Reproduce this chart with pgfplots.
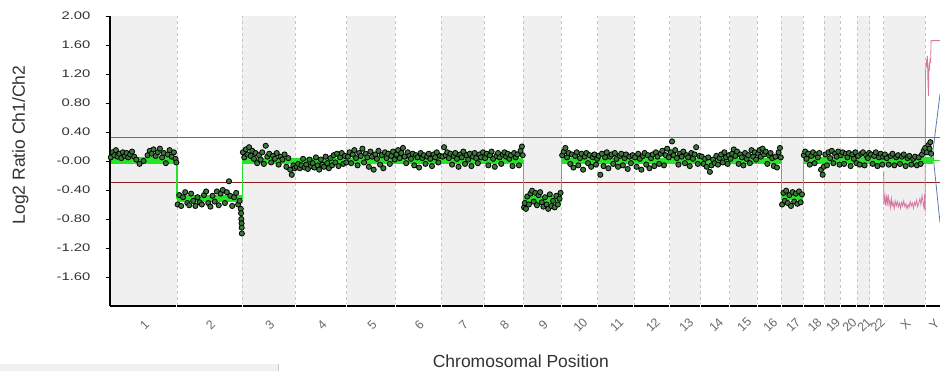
\documentclass[border=0pt]{standalone}
\usepackage{pgfplots}
\pgfplotsset{compat=1.18}
\usepackage{fontspec}
\setmainfont{Liberation Sans}
\definecolor{band}{RGB}{240,240,240}
\definecolor{dashc}{RGB}{198,198,198}
\definecolor{seg}{RGB}{40,228,40}
\definecolor{dot}{RGB}{60,120,60}
\definecolor{thrG}{RGB}{60,145,60}
\definecolor{thrR}{RGB}{140,30,30}
\definecolor{pinkl}{RGB}{215,120,160}
\definecolor{bluel}{RGB}{90,125,175}
\definecolor{txt}{RGB}{50,50,50}
\definecolor{lbl}{RGB}{105,105,105}
\begin{document}
\begin{tikzpicture}
\begin{axis}[
  scale only axis, width=830pt, height=290pt,
  at={(0,0)}, anchor=south west,
  xmin=0, xmax=3091, ymin=-2, ymax=2,
  axis lines=left, axis line style={draw=none},
  clip=false,
  ytick={2,1.6,1.2,0.8,0.4,0,-0.4,-0.8,-1.2,-1.6},
  yticklabels={2.00,1.60,1.20,0.80,0.40,-0.00,-0.40,-0.80,-1.20,-1.60},
  tick align=outside,
  major tick length=4pt,
  y tick style={black, line width=0.8pt},
  x tick style={draw=none},
  xtick={124.6,370.9,591.5,786.1,972.2,1148.2,1313.3,1466.0,1609.8,1748.2,1883.4,2017.9,2142.4,2253.7,2358.6,2455.0,2540.8,2620.5,2689.1,2750.1,2805.7,2855.4,2958.7,3066},
  xticklabels={1,2,3,4,5,6,7,8,9,10,11,12,13,14,15,16,17,18,19,20,21,22,X,Y},
  yticklabel style={font=\fontsize{11}{13}\selectfont, xscale=1.35, text=txt, xshift=-8pt},
  xticklabel style={font=\fontsize{12.5}{14}\selectfont, text=lbl, anchor=center, yshift=-15pt, xshift=1pt, rotate=45},
  xlabel={Chromosomal Position}, ylabel={Log2 Ratio Ch1/Ch2},
  label style={font=\fontsize{17.5}{20}\selectfont, text=txt},
  xlabel style={at={(axis description cs:0.495,-0.19)}, anchor=center},
  ylabel style={at={(axis description cs:-0.108,0.555)}, anchor=center},
]
% chromosome bands (odd chromosomes and X)
\fill[band] (axis cs:0,-2) rectangle (axis cs:249.3,2);
\fill[band] (axis cs:492.5,-2) rectangle (axis cs:690.5,2);
\fill[band] (axis cs:881.7,-2) rectangle (axis cs:1062.6,2);
\fill[band] (axis cs:1233.7,-2) rectangle (axis cs:1392.8,2);
\fill[band] (axis cs:1539.2,-2) rectangle (axis cs:1680.4,2);
\fill[band] (axis cs:1815.9,-2) rectangle (axis cs:1950.9,2);
\fill[band] (axis cs:2084.8,-2) rectangle (axis cs:2200.0,2);
\fill[band] (axis cs:2307.3,-2) rectangle (axis cs:2409.8,2);
\fill[band] (axis cs:2500.2,-2) rectangle (axis cs:2581.4,2);
\fill[band] (axis cs:2659.5,-2) rectangle (axis cs:2718.6,2);
\fill[band] (axis cs:2781.6,-2) rectangle (axis cs:2829.7,2);
\fill[band] (axis cs:2881.0,-2) rectangle (axis cs:3036.3,2);
\pgfplotsinvokeforeach{249.3,492.5,690.5,881.7,1062.6,1233.7,1392.8,1539.2,1680.4,1815.9,1950.9,2084.8,2200.0,2307.3,2409.8,2500.2,2581.4,2659.5,2718.6,2781.6,2829.7,2881.0,3036.3}{
  \draw[dashc, dash pattern=on 3pt off 3pt, line width=0.7pt] (axis cs:#1,-2) -- (axis cs:#1,2);
}
% thresholds
\addplot[thrG, line width=1pt] coordinates {(0,0.32) (3091,0.32)};
\addplot[thrR, line width=1pt] coordinates {(0,-0.30) (3091,-0.30)};
% X / Y overlay traces
\addplot[pinkl, line width=0.8pt] coordinates {
(2881,-0.15) (2882,-0.60) (2886,-0.48) (2889,-0.62) (2892,-0.50) (2895,-0.58) (2898,-0.46) (2901,-0.60)
(2904,-0.55) (2907,-0.64) (2910,-0.52) (2913,-0.61) (2916,-0.57) (2920,-0.66) (2924,-0.55) (2928,-0.62)
(2932,-0.56) (2936,-0.63) (2940,-0.58) (2944,-0.65) (2948,-0.57) (2952,-0.62) (2956,-0.55) (2960,-0.63)
(2964,-0.59) (2968,-0.66) (2972,-0.60) (2976,-0.64) (2980,-0.56) (2984,-0.62) (2988,-0.58) (2992,-0.65)
(2996,-0.57) (3000,-0.61) (3004,-0.54) (3008,-0.63) (3012,-0.58) (3016,-0.52) (3020,-0.60) (3024,-0.48)
(3028,-0.57) (3032,-0.66) (3034,-0.45) (3036,-0.70) (3037,1.20) (3040,1.40) (3042,1.30) (3044,1.45)
(3046,1.10) (3048,0.90) (3050,1.35) (3052,1.25) (3054,1.42) (3056,1.35) (3058,1.66) (3091,1.66)};
\addplot[bluel, line width=0.8pt] coordinates {(3091,0.92) (3064,0.12) (3091,-0.85)};
% data points
\addplot[only marks, mark=*, mark size=2.6pt, mark options={fill=dot, draw=black, line width=0.8pt}] table {
x y
3 0.05
10 0.12
16 0.08
22 0.15
28 0.06
35 0.10
42 0.04
48 0.12
55 0.07
62 0.11
68 0.05
75 0.09
82 0.13
90 0.06
98 0.02
110 -0.04
125 0.00
140 0.08
148 0.14
155 0.10
162 0.16
170 0.07
178 0.12
186 0.17
194 0.05
200 0.11
208 -0.03
215 0.09
222 0.15
230 0.06
238 0.12
244 0.03
247 -0.02
252 -0.60
258 -0.47
265 -0.62
272 -0.50
280 -0.43
288 -0.58
295 -0.61
302 -0.45
310 -0.55
318 -0.62
326 -0.50
334 -0.57
342 -0.60
350 -0.47
358 -0.42
366 -0.58
374 -0.63
382 -0.48
390 -0.56
398 -0.42
405 -0.61
412 -0.45
420 -0.40
428 -0.58
435 -0.43
443 -0.28
448 -0.48
455 -0.62
462 -0.50
470 -0.44
477 -0.60
483 -0.55
487 -0.66
488 -0.72
489 -0.80
490 -0.86
490.5 -0.92
491 -1.00
495 0.12
500 0.05
506 0.16
512 0.09
518 0.19
524 0.07
530 0.14
536 0.03
542 0.11
548 -0.03
555 0.08
561 0.02
567 0.12
573 -0.04
580 0.21
586 0.06
593 0.10
600 -0.02
607 0.07
614 0.03
621 0.11
628 -0.05
635 0.06
642 0.02
650 0.09
657 -0.08
664 0.04
671 -0.12
677 -0.19
683 -0.06
688 -0.10
695 -0.08
701 -0.04
707 -0.10
713 -0.06
719 0.03
725 -0.09
731 -0.05
737 -0.11
743 0.02
749 -0.07
755 -0.03
761 -0.09
767 0.05
773 -0.06
779 -0.12
785 0.02
791 -0.05
797 -0.08
803 0.06
809 -0.03
815 -0.10
821 0.04
827 -0.06
833 0.08
839 -0.02
845 0.10
851 -0.07
857 0.05
863 0.11
869 -0.04
875 0.07
880 -0.02
886 0.06
892 0.12
898 -0.03
904 0.09
910 0.15
916 0.04
922 -0.06
928 0.11
934 0.07
940 0.17
946 -0.02
952 0.10
958 0.05
964 -0.08
970 0.13
976 0.06
982 -0.12
988 0.09
994 0.03
1000 0.14
1006 -0.05
1012 0.08
1018 -0.10
1024 0.12
1030 0.04
1036 0.10
1042 -0.04
1048 0.07
1054 0.13
1060 0.02
1067 0.09
1073 0.15
1079 0.04
1085 0.11
1091 0.18
1097 0.06
1103 -0.03
1109 0.12
1115 0.07
1121 0.03
1127 0.10
1133 -0.06
1139 0.08
1145 0.05
1151 -0.09
1157 0.11
1163 0.04
1169 0.08
1175 -0.04
1181 0.06
1187 0.10
1193 0.03
1199 -0.07
1205 0.09
1211 0.05
1217 0.12
1223 -0.02
1229 0.07
1238 0.06
1244 0.19
1250 0.08
1256 0.12
1262 0.04
1268 0.10
1274 -0.05
1280 0.07
1286 0.11
1292 0.03
1298 -0.08
1304 0.09
1310 0.05
1316 0.13
1322 -0.04
1328 0.08
1334 0.02
1340 0.10
1346 -0.07
1352 0.06
1358 0.11
1364 0.04
1370 -0.03
1376 0.09
1382 0.05
1389 0.12
1397 0.04
1403 0.10
1409 -0.06
1415 0.08
1421 0.13
1427 0.03
1433 -0.08
1439 0.07
1445 0.11
1451 0.05
1457 -0.04
1463 0.09
1469 0.12
1475 0.06
1481 0.10
1487 0.03
1493 0.08
1499 -0.07
1505 0.11
1511 0.05
1517 0.09
1523 -0.06
1529 0.14
1534 0.20
1537 0.08
1542 -0.64
1545 -0.58
1549 -0.66
1554 -0.49
1560 -0.60
1566 -0.45
1572 -0.41
1578 -0.56
1584 -0.44
1590 -0.61
1596 -0.47
1602 -0.43
1608 -0.57
1614 -0.63
1620 -0.50
1626 -0.60
1632 -0.66
1638 -0.46
1644 -0.62
1650 -0.55
1656 -0.64
1662 -0.48
1668 -0.60
1674 -0.52
1678 -0.44
1684 0.08
1690 0.13
1696 0.18
1702 0.05
1708 0.11
1714 -0.04
1720 0.09
1726 -0.09
1732 0.07
1738 0.12
1744 -0.06
1750 0.04
1756 0.10
1762 -0.12
1768 0.06
1774 0.11
1780 -0.03
1786 0.08
1792 -0.08
1798 0.05
1804 0.09
1810 -0.05
1814 0.03
1820 0.07
1826 -0.19
1832 0.10
1838 -0.07
1844 0.05
1850 0.12
1856 -0.10
1862 0.06
1868 0.09
1874 -0.04
1880 0.11
1886 0.03
1892 -0.08
1898 0.07
1904 0.10
1910 -0.06
1916 0.04
1922 0.09
1928 -0.11
1934 0.06
1940 -0.03
1946 0.08
1955 0.05
1961 -0.08
1967 0.10
1973 0.03
1979 -0.12
1985 0.07
1991 0.11
1997 -0.05
2003 0.08
2009 -0.10
2015 0.04
2021 0.09
2027 -0.07
2033 0.12
2039 0.06
2045 -0.04
2051 0.10
2057 0.14
2063 -0.06
2069 0.08
2075 0.17
2081 0.05
2089 0.12
2093 0.27
2099 0.08
2105 0.15
2111 0.04
2117 -0.05
2123 0.10
2129 0.06
2135 0.13
2141 -0.03
2147 0.08
2153 0.05
2159 -0.07
2165 0.11
2171 0.03
2177 0.09
2183 0.19
2189 -0.04
2195 0.07
2204 0.06
2210 -0.04
2216 0.03
2222 -0.08
2228 0.05
2234 -0.15
2240 -0.06
2246 0.02
2252 -0.03
2258 0.07
2264 -0.05
2270 0.04
2276 0.09
2282 -0.02
2288 0.12
2294 0.05
2300 -0.04
2305 0.08
2311 0.03
2317 0.10
2323 0.16
2329 0.07
2335 0.13
2341 -0.04
2347 0.09
2353 0.05
2359 -0.06
2365 0.11
2371 0.03
2377 0.08
2383 -0.03
2389 0.15
2395 0.06
2401 0.12
2406 0.02
2414 0.10
2419 0.15
2424 0.06
2430 0.17
2436 0.09
2442 0.13
2448 -0.04
2454 0.08
2460 0.11
2466 0.04
2472 -0.07
2478 0.06
2484 -0.09
2490 0.12
2495 0.18
2498 0.05
2503 -0.60
2508 -0.44
2513 -0.55
2518 -0.41
2524 -0.58
2530 -0.47
2536 -0.62
2542 -0.43
2548 -0.56
2554 -0.45
2560 -0.59
2566 -0.42
2572 -0.57
2577 -0.46
2584 0.08
2589 0.13
2594 0.03
2600 0.10
2606 -0.05
2612 0.07
2618 0.12
2624 -0.03
2630 0.09
2636 0.05
2642 0.11
2648 -0.12
2654 -0.19
2658 -0.08
2664 0.09
2670 -0.06
2676 0.12
2682 0.04
2688 0.14
2694 -0.03
2700 0.10
2706 0.06
2712 0.13
2717 -0.05
2722 0.08
2728 0.12
2734 -0.04
2740 0.10
2746 0.05
2752 0.11
2758 -0.07
2764 0.09
2770 0.03
2776 0.12
2780 -0.03
2786 0.07
2792 -0.05
2798 0.10
2804 0.12
2810 -0.06
2816 0.08
2822 0.04
2827 0.11
2834 0.09
2840 -0.04
2846 0.07
2852 0.12
2858 -0.07
2864 0.05
2870 0.10
2876 -0.05
2879 0.06
2886 0.09
2893 0.04
2900 -0.05
2907 0.07
2914 0.10
2921 -0.06
2928 0.05
2935 0.08
2942 -0.04
2949 0.06
2956 0.09
2963 -0.07
2970 0.04
2977 0.07
2984 -0.05
2991 0.03
2998 0.06
3005 -0.06
3012 0.05
3019 -0.04
3024 0.09
3030 0.14
3036 0.18
3042 0.12
3048 0.22
3052 0.17
3055 0.26
3058 0.10
};
% segmentation: thin step line and thick segments
\addplot[seg, line width=1.2pt] coordinates {
(0,0.01) (249.3,0.01) (249.3,-0.52) (492.5,-0.52) (492.5,0.0) (1539.2,0.0) (1539.2,-0.53)
(1680.4,-0.53) (1680.4,0.0) (2500.2,0.0) (2500.2,-0.49) (2581.4,-0.49) (2581.4,0.01) (3091,0.01)};
\addplot[seg, line width=6.5pt] coordinates {(0,0.01) (249.3,0.01)};
\addplot[seg, line width=6.5pt] coordinates {(249.3,-0.52) (492.5,-0.52)};
\addplot[seg, line width=6.5pt] coordinates {(492.5,0.0) (1539.2,0.0)};
\addplot[seg, line width=6.5pt] coordinates {(1539.2,-0.53) (1680.4,-0.53)};
\addplot[seg, line width=6.5pt] coordinates {(1680.4,0.0) (2500.2,0.0)};
\addplot[seg, line width=6.5pt] coordinates {(2500.2,-0.49) (2581.4,-0.49)};
\addplot[seg, line width=6.5pt] coordinates {(2581.4,0.01) (3064,0.01)};
% axis lines
\draw[black, line width=2.6pt] (axis cs:0,-2) -- (axis cs:3091,-2);
\pgfplotsinvokeforeach{249.3,492.5,690.5,881.7,1062.6,1233.7,1392.8,1539.2,1680.4,1815.9,1950.9,2084.8,2200.0,2307.3,2409.8,2500.2,2581.4,2659.5,2718.6,2781.6,2829.7,2881.0,3036.3}{
  \draw[white, line width=1pt] ([yshift=2pt]axis cs:#1,-2) -- ([yshift=-2pt]axis cs:#1,-2);
}
\draw[black, line width=1.6pt] (axis cs:0,-2) -- (axis cs:0,2);
\end{axis}
\fill[band] (-110pt,-65pt) rectangle (168pt,-58pt);
\draw[dashc, line width=0.8pt] (168pt,-65pt) -- (168pt,-58pt);
\pgfresetboundingbox
\path[use as bounding box] (-110pt,-65pt) rectangle (830pt,306pt);
\end{tikzpicture}
\end{document}
